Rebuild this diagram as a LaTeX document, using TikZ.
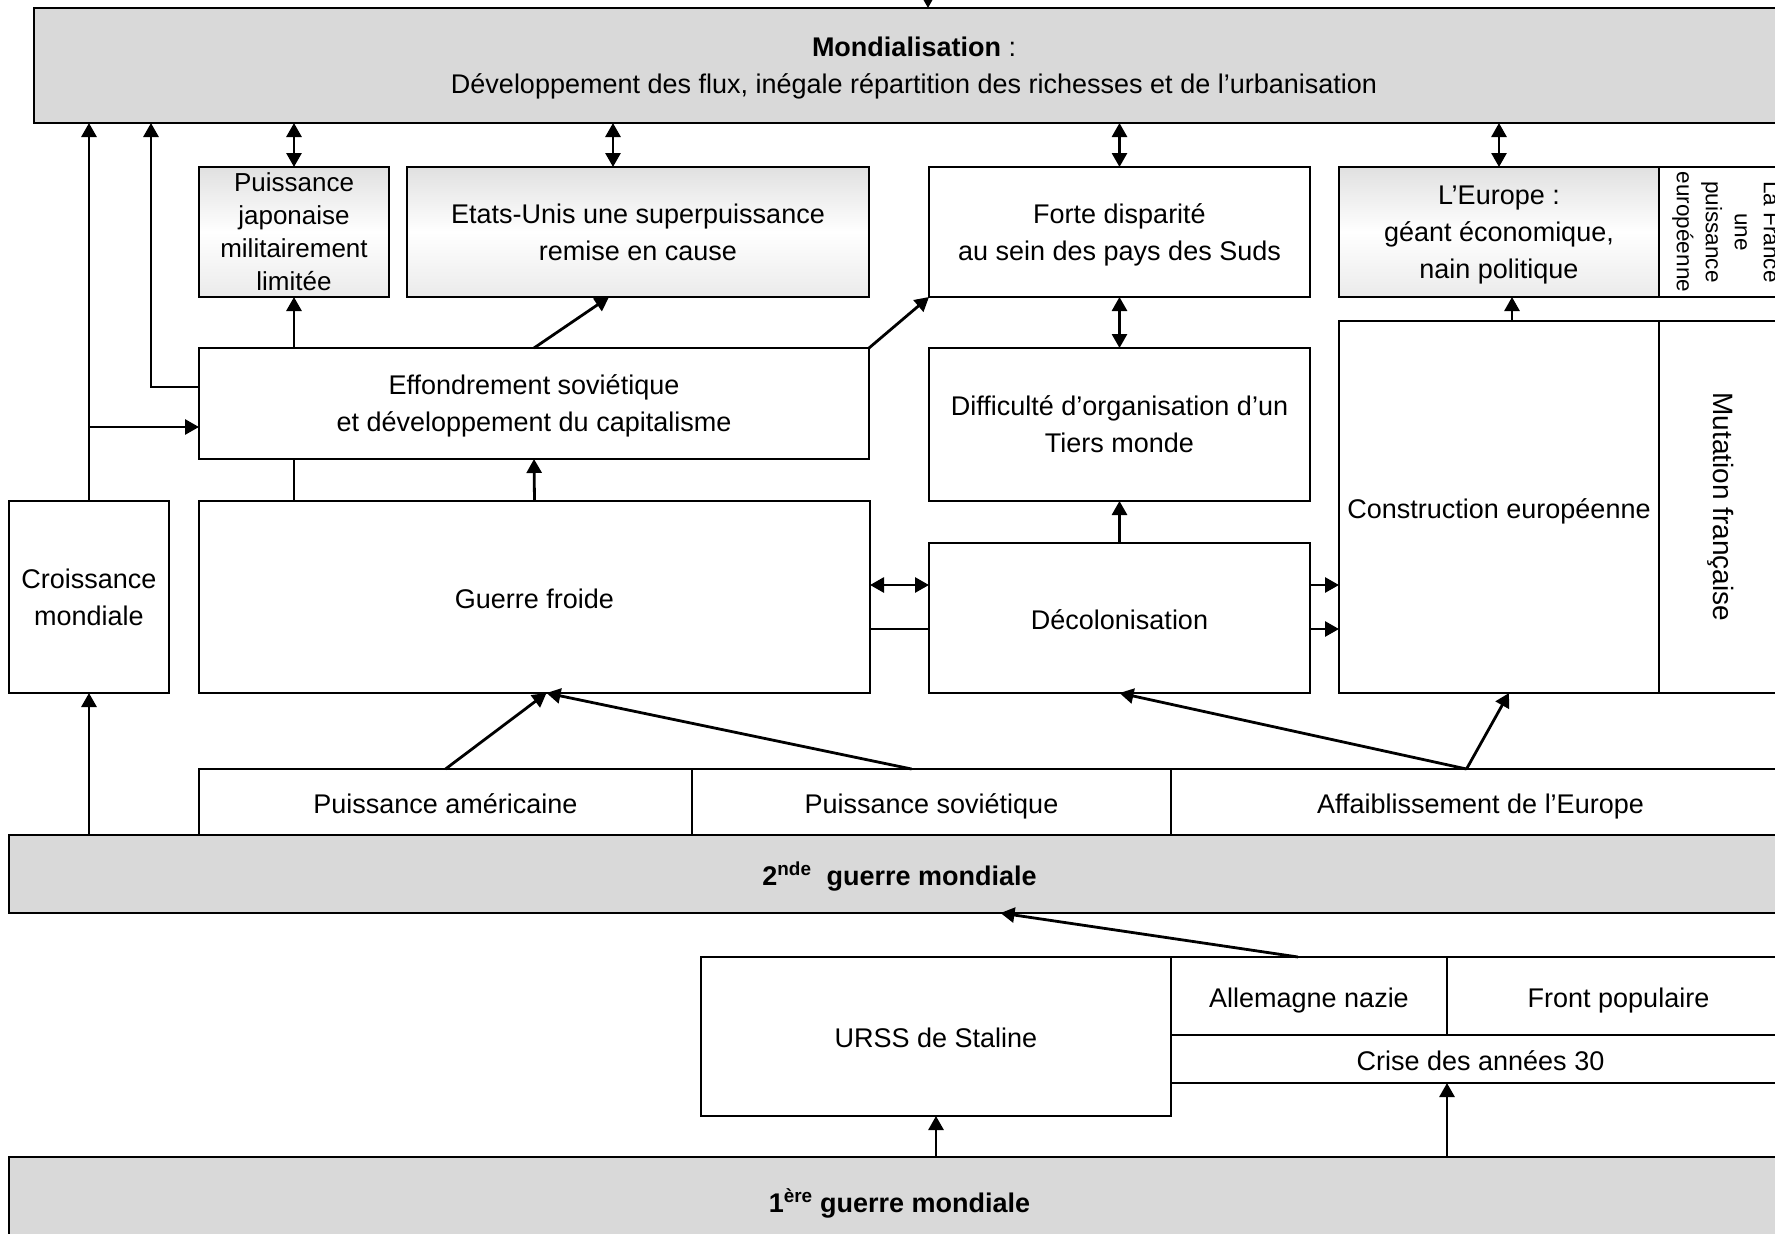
\documentclass[tikz,border=0pt]{standalone}
\usepackage{fontspec}
\setmainfont{Liberation Sans}
\usetikzlibrary{arrows.meta}
\definecolor{grisfond}{HTML}{D9D9D9}

\begin{document}
\begin{tikzpicture}[x=1pt, y=-1pt,
		bloc/.style={draw, line width=1.6pt, outer sep=0pt, inner sep=2pt, align=center, font=\fontsize{27}{37}\selectfont,
			execute at begin node={\rule[-7pt]{0pt}{36pt}}},
		lignes/.style={text depth=-7pt},
		guerre/.style={bloc, fill=grisfond, font=\fontsize{27}{37}\selectfont\bfseries},
		degrade/.style={bloc, lignes, top color=black!12, bottom color=black!8, middle color=white},
		fleche/.style={line width=2.8pt, -{Triangle[length=14pt, width=15pt]}},
		dfleche/.style={line width=2.8pt, {Triangle[length=14pt, width=15pt]}-{Triangle[length=14pt, width=15pt]}},
		trait/.style={line width=2.8pt}]
		\useasboundingbox (0,0) rectangle (1775,1234);
		\fill[white] (0,0) rectangle (1775,1234);
		\clip (0,0) rectangle (1775,1234);
		
		% Mondialisation
		\node[bloc, lignes, fill=grisfond, minimum width=1760, minimum height=115] (mondial) at (914,65.5) {\textbf{Mondialisation} :\\Développement des flux, inégale répartition des richesses et de l’urbanisation};
		\coordinate (haut) at (928,-30);
		\draw[fleche] (haut) -- (haut |- mondial.north);
		
		% Rangee du haut
		\node[degrade, font=\fontsize{26}{33}\selectfont, minimum width=190, minimum height=130] (japon) at (294,232) {Puissance\\japonaise\\militairement\\limitée};
		\node[degrade, minimum width=462, minimum height=130] (etats) at (638,232) {Etats-Unis une superpuissance\\remise en cause};
		\node[bloc, lignes, minimum width=381, minimum height=130] (forte) at (1119.5,232) {Forte disparité\\au sein des pays des Suds};
		\node[degrade, minimum width=320, minimum height=130] (europe) at (1499,232) {L’Europe :\\géant économique,\\nain politique};
		\node[bloc, rotate=-90, font=\fontsize{22.5}{29}\selectfont, minimum width=130, minimum height=131] (france) at (1724.5,232) {La France\\une\\puissance\\européenne};
		
		% Liens avec la mondialisation
		\coordinate (m1) at ([xshift=-25pt]etats.north);
		\draw[dfleche] (m1) -- (m1 |- mondial.south);
		\foreach \n in {japon, forte, europe}
			\draw[dfleche] (\n.north) -- (\n.north |- mondial.south);
		
		% Rangee du milieu
		\node[bloc, lignes, minimum width=670, minimum height=111] (effond) at (534,403.5) {Effondrement soviétique\\et développement du capitalisme};
		\node[bloc, lignes, minimum width=381, minimum height=153] (diffic) at (1119.5,424.5) {Difficulté d’organisation d’un\\Tiers monde};
		\node[bloc, minimum width=320, minimum height=372] (constr) at (1499,507) {Construction européenne};
		\node[bloc, rotate=-90, font=\fontsize{28}{37}\selectfont, minimum width=372, minimum height=131] (mutation) at (1724.5,507) {Mutation française};
		
		% Guerre froide et decolonisation
		\node[bloc, lignes, minimum width=160, minimum height=192] (croiss) at (89,597) {Croissance\\mondiale};
		\node[bloc, minimum width=671, minimum height=192] (guerref) at (534.5,597) {Guerre froide};
		\node[bloc, minimum width=381, minimum height=150] (decol) at (1119.5,618) {Décolonisation};
		
		% Puissances issues de la guerre
		\node[bloc, minimum width=493, minimum height=66] (pam) at (445.5,802) {Puissance américaine};
		\node[bloc, minimum width=479, minimum height=66] (psov) at (931.5,802) {Puissance soviétique};
		\node[bloc, minimum width=619, minimum height=66] (affaib) at (1480.5,802) {Affaiblissement de l’Europe};
		\node[guerre, minimum width=1781, minimum height=78] (deux) at (899.5,874) {2\textsuperscript{nde}\ \ guerre mondiale};
		
		% Entre-deux-guerres
		\node[bloc, minimum width=470, minimum height=159] (urss) at (936,1036.5) {URSS de Staline};
		\node[bloc, minimum width=276, minimum height=78] (allem) at (1309,996) {Allemagne nazie};
		\node[bloc, minimum width=343, minimum height=78] (front) at (1618.5,996) {Front populaire};
		\node[bloc, minimum width=619, minimum height=48] (crise) at (1480.5,1059) {Crise des années 30};
		\node[guerre, minimum width=1781, minimum height=88] (une) at (899.5,1201) {1\textsuperscript{ère} guerre mondiale};
		
		% Fleches de gauche
		\draw[fleche] (croiss.north) -- (croiss.north |- mondial.south);
		\coordinate (g1) at ([yshift=-23.5pt]effond.west);
		\draw[fleche] (croiss.north |- g1) -- (g1);
		\coordinate (g2) at (151,387);
		\draw[fleche] (effond.west |- g2) -- (g2) -- (g2 |- mondial.south);
		
		% Effondrement sovietique
		\draw[fleche] (japon.south |- effond.north) -- (japon.south);
		\coordinate (e1) at ([xshift=-29pt]etats.south);
		\draw[fleche] (effond.north) -- (e1);
		\draw[fleche] (effond.north east) -- (forte.south west);
		\draw[dfleche] (forte.south) -- (diffic.north);
		\draw[fleche] (decol.north) -- (diffic.south);
		\coordinate (e2) at ([xshift=13pt]europe.south);
		\draw[fleche] (e2 |- constr.north) -- (e2);
		
		% Guerre froide
		\draw[trait] (japon.south |- guerref.north) -- (japon.south |- effond.south);
		\draw[fleche] (guerref.north) -- (effond.south);
		\coordinate (n1) at (0,585);
		\coordinate (n2) at (0,629);
		\draw[dfleche] (guerref.east |- n1) -- (decol.west |- n1);
		\draw[trait] (guerref.east |- n2) -- (decol.west |- n2);
		\draw[fleche] (decol.east |- n1) -- (constr.west |- n1);
		\draw[fleche] (decol.east |- n2) -- (constr.west |- n2);
		
		% Puissances
		\coordinate (c1) at ([xshift=12pt]guerref.south);
		\draw[fleche] (pam.north) -- (c1);
		\draw[fleche] ([xshift=-20pt]psov.north) -- (c1);
		\coordinate (a1) at ([xshift=-14pt]affaib.north);
		\draw[fleche] (a1) -- (decol.south);
		\draw[fleche] (a1) -- ([xshift=10pt]constr.south);
		\draw[fleche] (croiss.south |- deux.north) -- (croiss.south);
		
		% Entre-deux-guerres
		\draw[fleche] ([xshift=-11pt]allem.north) -- ([xshift=101pt]deux.south);
		\draw[fleche] (urss.south |- une.north) -- (urss.south);
		\draw[fleche] (allem.south east |- une.north) -- (allem.south east |- crise.south);
		
	\end{tikzpicture}
\end{document}
